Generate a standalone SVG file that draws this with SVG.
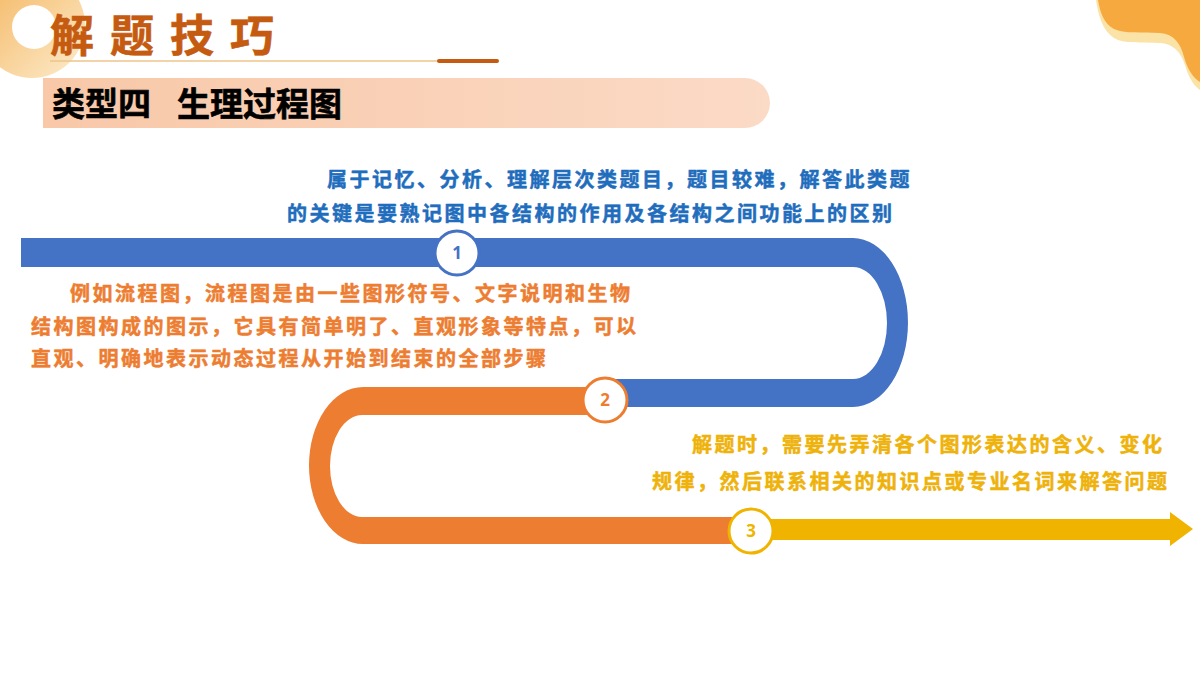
<svg xmlns="http://www.w3.org/2000/svg" width="1200" height="675" viewBox="0 0 1200 675">
<defs>
<linearGradient id="gDisc" x1="0" y1="0" x2="1" y2="1">
<stop offset="0" stop-color="#f3b35a"/>
<stop offset="1" stop-color="#fdeccd"/>
</linearGradient>
<linearGradient id="gBar" x1="0" y1="0" x2="1" y2="0">
<stop offset="0" stop-color="#f8c8a8"/>
<stop offset="1" stop-color="#fbdac6"/>
</linearGradient>
<style>
.t{font-family:"Noto Sans CJK SC","Noto Sans",sans-serif;font-weight:700}
.body{font-size:20px;letter-spacing:2.5px;stroke-width:0.5px;stroke-linejoin:round}
.num{font-family:"Noto Sans","Liberation Sans",sans-serif;font-weight:700;font-size:17px;text-anchor:middle}
.ring{fill:#ffffff;stroke-width:3}
</style>
</defs>
<rect width="1200" height="675" fill="#ffffff"/>

<g id="decor">
<circle cx="32" cy="25" r="53" fill="url(#gDisc)"/>
<circle cx="34" cy="27" r="22" fill="#ffffff"/>
<path d="M1096,0 C1098,14 1102,30 1114,38 C1124,44 1140,42 1160,43 C1175,44 1182,54 1186,68 C1189,78 1194,86 1200,90 V0 Z" fill="#fbe3a8"/>
<path d="M1098,0 C1100,12 1104,24 1114,29 C1124,34 1142,32 1160,33 C1174,34 1181,44 1184,57 C1187,68 1193,78 1200,82 V0 Z" fill="#f5a93e"/>
</g>

<g id="title">
<text class="t" x="50" y="52" font-size="44" letter-spacing="16" fill="#c55a11" stroke="#c55a11" stroke-width="0.6">解题技巧</text>
<line x1="50" y1="61" x2="440" y2="61" stroke="#ecc58a" stroke-width="1.5"/>
<line x1="439" y1="61" x2="497" y2="61" stroke="#c55a11" stroke-width="4" stroke-linecap="round"/>
</g>

<g id="subtitle">
<path d="M43,78 H745 A25,25 0 0 1 745,128 H43 Z" fill="url(#gBar)"/>
<text class="t" x="52" y="116" font-size="33" fill="#000000" stroke="#000000" stroke-width="0.6">类型四</text>
<text class="t" x="177" y="116" font-size="33" fill="#000000" stroke="#000000" stroke-width="0.6">生理过程图</text>
</g>

<g id="connectors">
<path id="band-blue" d="M21,238 H853 A55,84.5 0 0 1 853,407 H600 V379 H853 A34,56 0 0 0 853,267 H21 Z" fill="#4472c4"/>
<path id="band-orange" d="M605,387 H363 A54,78.5 0 0 0 363,544 H752 V517 H362 A32,51 0 0 1 362,415 H605 Z" fill="#ed7d31"/>
<path id="band-yellow" d="M752,519 H1170 V512 L1193,529 L1170,546 V540 H752 Z" fill="#f0b400"/>
</g>

<g id="node1">
<circle class="ring" cx="457" cy="253" r="22" stroke="#4472c4"/>
<text class="num" x="457" y="259" fill="#4472c4">1</text>
</g>
<g id="node2">
<circle class="ring" cx="605" cy="400" r="22" stroke="#ed7d31"/>
<text class="num" x="605" y="406" fill="#ed7d31">2</text>
</g>
<g id="node3">
<circle class="ring" cx="751" cy="531" r="22" stroke="#f0b400"/>
<text class="num" x="751" y="537" fill="#f0b400">3</text>
</g>

<g id="text-blue" class="t body" fill="#1f6dbd" stroke="#1f6dbd">
<text x="327" y="187">属于记忆、分析、理解层次类题目，题目较难，解答此类题</text>
<text x="287" y="221">的关键是要熟记图中各结构的作用及各结构之间功能上的区别</text>
</g>

<g id="text-orange" class="t body" fill="#ed7d31" stroke="#ed7d31">
<text x="70" y="301">例如流程图，流程图是由一些图形符号、文字说明和生物</text>
<text x="31" y="334">结构图构成的图示，它具有简单明了、直观形象等特点，可以</text>
<text x="31" y="366">直观、明确地表示动态过程从开始到结束的全部步骤</text>
</g>

<g id="text-yellow" class="t body" fill="#eeb20a" stroke="#eeb20a">
<text x="692" y="452">解题时，需要先弄清各个图形表达的含义、变化</text>
<text x="652" y="489">规律，然后联系相关的知识点或专业名词来解答问题</text>
</g>
</svg>
